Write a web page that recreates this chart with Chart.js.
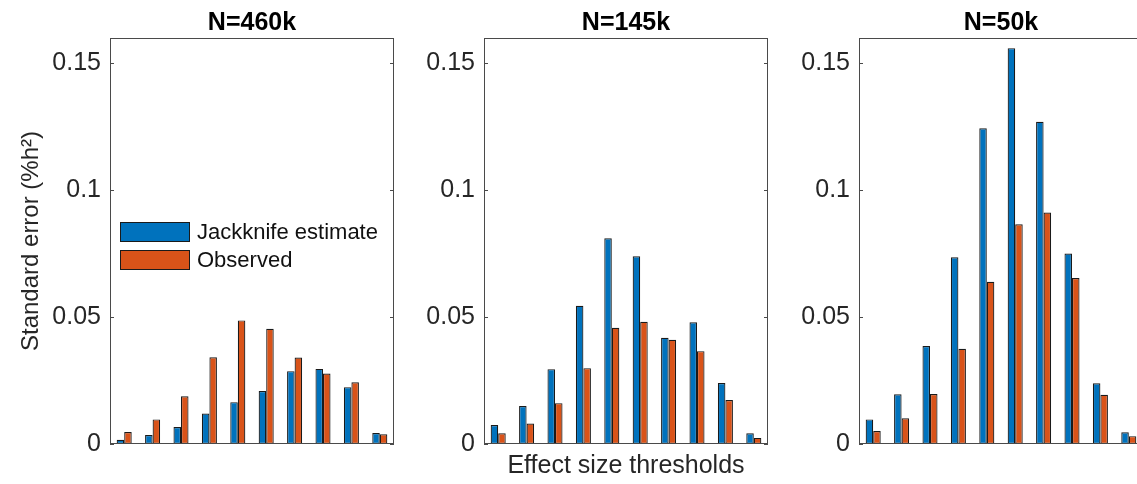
<!DOCTYPE html>
<html>
<head>
<meta charset="utf-8">
<script src="https://cdn.jsdelivr.net/npm/chart.js@4.4.1/dist/chart.umd.min.js"></script>
<style>
  html, body { margin: 0; padding: 0; background: #fff; width: 1137px; height: 484px; overflow: hidden; }
  canvas { position: absolute; top: 0; }
</style>
</head>
<body>
<canvas id="c460" width="400" height="484" style="left:0px"></canvas>
<canvas id="c145" width="360" height="484" style="left:414px"></canvas>
<canvas id="c50" width="360" height="484" style="left:789px"></canvas>
<script>
// ======================================================================
var categories = ['1', '2', '3', '4', '5', '6', '7', '8', '9', '10']
var seriesNames = ['Jackknife estimate', 'Observed']
var panelTitles = ['N=460k', 'N=145k', 'N=50k']

var jackknife460 = [0.0017, 0.0035, 0.0067, 0.0120, 0.0165, 0.0209, 0.0287, 0.0296, 0.0224, 0.0043]
var observed460 = [0.0047, 0.0097, 0.0188, 0.0342, 0.0487, 0.0454, 0.0341, 0.0278, 0.0243, 0.0038]
var jackknife145 = [0.0075, 0.0150, 0.0295, 0.0545, 0.0811, 0.0740, 0.0419, 0.0480, 0.0240, 0.0042]
var observed145 = [0.0042, 0.0081, 0.0161, 0.0299, 0.0458, 0.0482, 0.0411, 0.0366, 0.0173, 0.0024]
var jackknife50 = [0.0097, 0.0196, 0.0386, 0.0736, 0.1244, 0.1560, 0.1270, 0.0751, 0.0239, 0.0046]
var observed50 = [0.0051, 0.0101, 0.0197, 0.0375, 0.0639, 0.0866, 0.0912, 0.0654, 0.0194, 0.0031]

var yTicks = [0, 0.05, 0.1, 0.15]
var yTickLabels = ['0', '0.05', '0.1', '0.15']

var FONT = "'Liberation Sans', Arial, Helvetica, sans-serif"
var BLUE = '#0072BD'
var ORANGE = '#D95319'
var EDGE = '#1a1a1a'

// box round the plot area plus the small inward ticks on both sides
var boxPlugin = {
    id: 'matlabBox',
    afterDatasetsDraw: function (chart) {
        var a = chart.chartArea
        var ctx = chart.ctx
        var y = chart.scales.y
        ctx.save()
        ctx.strokeStyle = '#4a4a4a'
        ctx.lineWidth = 1
        ctx.strokeRect(Math.round(a.left) + 0.5, Math.round(a.top) + 0.5,
            Math.round(a.right - a.left) - 1, Math.round(a.bottom - a.top) - 1)
        yTicks.forEach(function (v) {
            var py = Math.round(y.getPixelForValue(v)) + 0.5
            ctx.beginPath()
            ctx.moveTo(a.left, py); ctx.lineTo(a.left + 4, py)
            ctx.moveTo(a.right - 4, py); ctx.lineTo(a.right, py)
            ctx.stroke()
        })
        ctx.restore()
    }
}

// legend drawn inside the first panel
var legendPlugin = {
    id: 'insideLegend',
    afterDraw: function (chart) {
        if (!chart.options.plugins.insideLegend.show) return
        var a = chart.chartArea
        var ctx = chart.ctx
        ctx.save()
        ctx.font = '22px ' + FONT
        ctx.textBaseline = 'middle'
        chart.data.datasets.forEach(function (ds, i) {
            var bx = a.left + 10
            var by = a.top + 184 + i * 28
            ctx.fillStyle = ds.backgroundColor
            ctx.fillRect(bx, by, 70, 20)
            ctx.strokeStyle = EDGE
            ctx.lineWidth = 1
            ctx.strokeRect(bx + 0.5, by + 0.5, 69, 19)
            ctx.fillStyle = '#111'
            ctx.fillText(ds.label, bx + 77, by + 11)
        })
        ctx.restore()
    }
}

function makePanel(id, title, jack, obs, yWidth, showYTitle, showXTitle, showLegend) {
    var ctx = document.getElementById(id).getContext('2d')
    return new Chart(ctx, {
        type: 'bar',
        data: {
            labels: categories,
            datasets: [{
                label: seriesNames[0],
                data: jack,
                backgroundColor: BLUE,
                borderColor: EDGE,
                borderWidth: 1.2,
                borderSkipped: false,
            },
            {
                label: seriesNames[1],
                data: obs,
                backgroundColor: ORANGE,
                borderColor: EDGE,
                borderWidth: 1.2,
                borderSkipped: false,
            }]
        },
        options: {
            responsive: false,
            animation: false,
            devicePixelRatio: 1,
            categoryPercentage: 0.53,
            barPercentage: 1.0,
            layout: { padding: { left: 0, right: 6, top: 0, bottom: 0 } },
            plugins: {
                legend: { display: false },
                tooltip: { enabled: false },
                insideLegend: { show: showLegend },
                title: {
                    display: true,
                    fullSize: false,
                    text: title,
                    color: '#000',
                    font: { family: FONT, size: 25, weight: 'bold' },
                    padding: { top: 8, bottom: 0 }
                }
            },
            scales: {
                x: {
                    type: 'category',
                    grid: { display: false },
                    border: { display: false },
                    ticks: { display: false },
                    title: {
                        display: showXTitle,
                        text: 'Effect size thresholds',
                        color: '#262626',
                        font: { family: FONT, size: 25 },
                        padding: { top: 0, bottom: 3 }
                    },
                    afterFit: function (s) { s.height = 40 }
                },
                y: {
                    min: 0,
                    max: 0.16,
                    grid: { display: false, drawTicks: false },
                    border: { display: false },
                    ticks: {
                        padding: 9,
                        color: '#262626',
                        font: { family: FONT, size: 25 },
                        callback: function (v) {
                            var k = yTicks.indexOf(v)
                            return k >= 0 ? yTickLabels[k] : ''
                        }
                    },
                    afterBuildTicks: function (s) {
                        s.ticks = yTicks.map(function (v) { return { value: v } })
                    },
                    title: {
                        display: showYTitle,
                        text: 'Standard error (%h²)',
                        color: '#262626',
                        font: { family: FONT, size: 24 },
                        padding: { top: 17, bottom: 0 }
                    },
                    afterFit: function (s) { s.width = yWidth }
                }
            }
        },
        plugins: [boxPlugin, legendPlugin]
    })
}

makePanel('c460', panelTitles[0], jackknife460, observed460, 110, true, false, true)
makePanel('c145', panelTitles[1], jackknife145, observed145, 70, false, true, false)
makePanel('c50', panelTitles[2], jackknife50, observed50, 70, false, false, false)
</script>
</body>
</html>
